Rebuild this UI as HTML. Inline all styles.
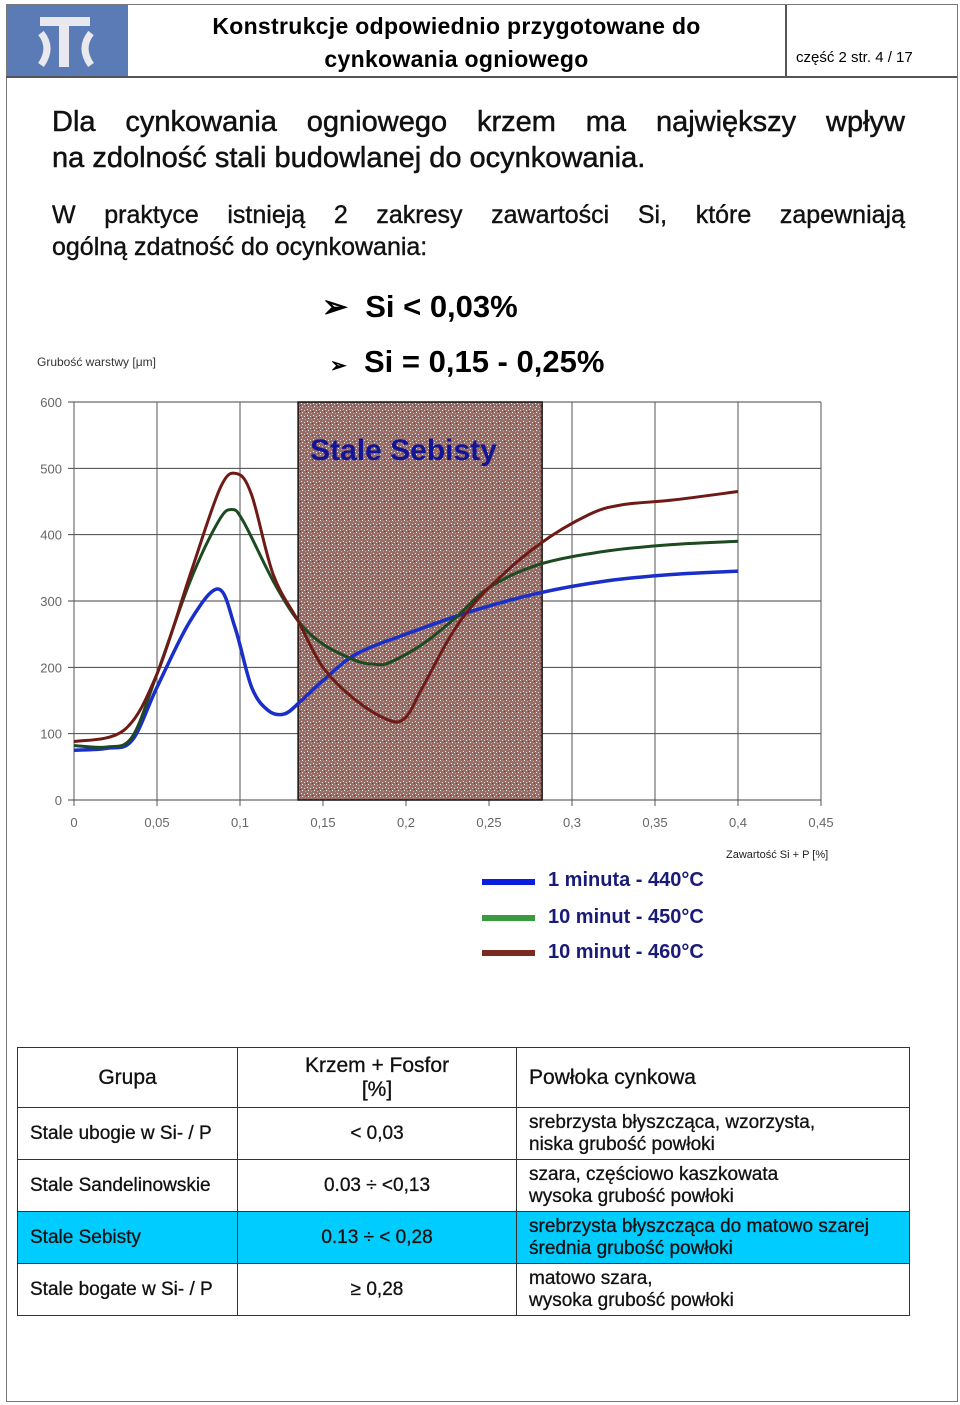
<!DOCTYPE html>
<html><head><meta charset="utf-8">
<style>
body{margin:0;background:#fff;font-family:"Liberation Sans",sans-serif;}
#page{position:relative;width:960px;height:1405px;overflow:hidden;background:#fff;}
.abs{position:absolute;}
.bold{font-weight:bold;}
.jl{text-align:justify;text-align-last:justify;white-space:nowrap;}
table{border-collapse:collapse;position:absolute;left:17px;top:1047px;}
td{border:1.5px solid #333;font-size:19px;padding:0 12px;color:#111;}
</style></head>
<body>
<div id="page">
  <div class="abs" style="left:6px;top:4px;width:950px;height:1396px;border:1.5px solid #777;"></div>
  <div class="abs" style="left:6px;top:76px;width:951px;height:1.5px;background:#555;"></div>
  <div class="abs" style="left:7px;top:5px;width:121px;height:71px;background:#5a7bb5;">
    <svg width="121" height="71">
      <rect x="33" y="12" width="50" height="9" fill="#e8e8ee"/>
      <rect x="52" y="20" width="10" height="42" fill="#e8e8ee"/>
      <path d="M34 28 q12 15 0 32" stroke="#e8e8ee" stroke-width="7" fill="none"/>
      <path d="M84 28 q-12 15 0 32" stroke="#e8e8ee" stroke-width="7" fill="none"/>
    </svg>
  </div>
  <div class="abs" style="left:785px;top:5px;width:1.5px;height:71px;background:#555;"></div>
  <div class="abs bold" style="left:128px;top:10px;width:657px;text-align:center;font-size:23px;line-height:33px;letter-spacing:0.3px;">Konstrukcje odpowiednio przygotowane do<br>cynkowania ogniowego</div>
  <div class="abs" style="left:796px;top:49px;font-size:15px;">część 2 str. 4 / 17</div>

  <div class="abs" style="left:52px;top:104px;width:853px;font-size:29px;line-height:36px;color:#111;-webkit-text-stroke:0.5px #111;">
    <div class="jl">Dla cynkowania ogniowego krzem ma największy wpływ</div>
    <div>na zdolność stali budowlanej do ocynkowania.</div>
  </div>
  <div class="abs" style="left:52px;top:199px;width:853px;font-size:25px;line-height:32px;color:#111;-webkit-text-stroke:0.4px #111;">
    <div class="jl">W praktyce istnieją 2 zakresy zawartości Si, które zapewniają</div>
    <div>ogólną zdatność do ocynkowania:</div>
  </div>
  <div class="abs bold" style="left:322px;top:289px;font-size:31px;">➢&nbsp; Si &lt; 0,03%</div>
  <div class="abs bold" style="left:330px;top:344px;font-size:31px;"><span style="font-size:20px">➢</span>&nbsp; Si = 0,15 - 0,25%</div>
  <div class="abs" style="left:37px;top:355px;font-size:12px;color:#333;">Grubość warstwy [μm]</div>

  <svg id="chart" class="abs" style="left:0;top:390px;" width="860" height="455">
    <defs>
      <pattern id="noise" width="6" height="6" patternUnits="userSpaceOnUse">
        <rect width="6" height="6" fill="#9a6e66"/>
        <rect x="1" y="1" width="1" height="1" fill="#eee"/>
        <rect x="4" y="2" width="1" height="1" fill="#ddd"/>
        <rect x="2" y="4" width="1" height="1" fill="#f4f4f4"/>
        <rect x="5" y="5" width="1" height="1" fill="#c9b"/>
        <rect x="0" y="3" width="1" height="1" fill="#6b3a36"/>
      </pattern>
    </defs>
    <g id="grid"></g>
    <g id="band"></g>
    <g id="series"></g>
    <g id="labels"></g>
  </svg>
  <div class="abs" style="left:726px;top:849px;font-size:11px;color:#222;">Zawartość Si + P [%]</div>

  <div class="abs" style="left:480px;top:866px;">
    <div style="position:absolute;left:0;top:0;width:400px;"><span style="position:absolute;left:2px;top:13px;width:53px;height:6px;background:#0a1ee0"></span><span class="bold" style="position:absolute;left:68px;top:3px;font-size:20px;color:#1a1a78;white-space:nowrap;">1 minuta - 440°C</span></div>
    <div style="position:absolute;left:0;top:37px;width:400px;"><span style="position:absolute;left:2px;top:12px;width:53px;height:6px;background:#3a9a3e"></span><span class="bold" style="position:absolute;left:68px;top:3px;font-size:20px;color:#1a1a78;white-space:nowrap;">10 minut - 450°C</span></div>
    <div style="position:absolute;left:0;top:72px;width:400px;"><span style="position:absolute;left:2px;top:12px;width:53px;height:6px;background:#7a2a1e"></span><span class="bold" style="position:absolute;left:68px;top:3px;font-size:20px;color:#1a1a78;white-space:nowrap;">10 minut - 460°C</span></div>
  </div>

  <table style="-webkit-text-stroke:0.3px #111;">
    <tr style="height:60px">
      <td style="width:195px;text-align:center;font-size:21px;">Grupa</td>
      <td style="width:254px;text-align:center;font-size:21px;line-height:24px;">Krzem + Fosfor<br>[%]</td>
      <td style="width:368px;font-size:21px;">Powłoka cynkowa</td>
    </tr>
    <tr style="height:52px">
      <td>Stale ubogie w Si- / P</td><td style="text-align:center">&lt; 0,03</td><td style="line-height:22px">srebrzysta błyszcząca, wzorzysta,<br>niska grubość powłoki</td>
    </tr>
    <tr style="height:52px">
      <td>Stale Sandelinowskie</td><td style="text-align:center">0.03 ÷ &lt;0,13</td><td style="line-height:22px">szara, częściowo kaszkowata<br>wysoka grubość powłoki</td>
    </tr>
    <tr style="height:52px;background:#00ccff">
      <td>Stale Sebisty</td><td style="text-align:center">0.13 ÷ &lt; 0,28</td><td style="line-height:22px">srebrzysta błyszcząca do matowo szarej<br>średnia grubość powłoki</td>
    </tr>
    <tr style="height:52px">
      <td>Stale bogate w Si- / P</td><td style="text-align:center">≥ 0,28</td><td style="line-height:22px">matowo szara,<br>wysoka grubość powłoki</td>
    </tr>
  </table>
</div>
<script>
const xTicks=[0,0.05,0.1,0.15,0.2,0.25,0.3,0.35,0.4,0.45];
const xTickLabels=["0","0,05","0,1","0,15","0,2","0,25","0,3","0,35","0,4","0,45"];
const yTicks=[0,100,200,300,400,500,600];
const bandRange=[0.135,0.282];
const bandLabel="Stale Sebisty";
const blueX=[0,0.02,0.035,0.05,0.07,0.087,0.097,0.107,0.117,0.127,0.137,0.15,0.17,0.2,0.24,0.28,0.32,0.36,0.4];
const blueY=[75,78,90,170,270,318,260,170,135,130,150,180,220,250,285,312,330,340,345];
const greenX=[0,0.02,0.035,0.05,0.07,0.087,0.095,0.102,0.12,0.135,0.15,0.17,0.18,0.19,0.21,0.23,0.25,0.28,0.32,0.36,0.4];
const greenY=[82,80,95,190,330,420,438,420,330,270,235,210,205,207,235,275,320,355,375,385,390];
const redX=[0,0.03,0.05,0.07,0.088,0.098,0.107,0.12,0.135,0.15,0.17,0.19,0.2,0.21,0.23,0.25,0.28,0.31,0.33,0.36,0.4];
const redY=[88,105,190,340,470,492,460,340,270,200,150,120,125,170,260,320,385,430,445,452,465];

const OY=390, X0=74, X1=821, Y0=800, Y1=402;
function sx(v){return X0+(X1-X0)*v/0.45;}
function sy(v){return Y0-OY-(Y0-Y1)*v/600;}
const NS="http://www.w3.org/2000/svg";
function mk(tag,attrs,parent){const e=document.createElementNS(NS,tag);for(const k in attrs)e.setAttribute(k,attrs[k]);document.getElementById(parent).appendChild(e);return e;}
yTicks.forEach(t=>{
  const l=mk('line',{x1:sx(0)-6,x2:sx(0.45),y1:sy(t),y2:sy(t),stroke:'#444','stroke-width':1},'grid');
  
  
  const tx=mk('text',{x:sx(0)-12,y:sy(t)+5,'text-anchor':'end','font-size':13,fill:'#666','font-family':'Liberation Sans, sans-serif'},'labels');
  tx.textContent=t;
  
  
});
xTicks.forEach((t,i)=>{
  const l=mk('line',{x1:sx(t),x2:sx(t),y1:sy(600),y2:sy(0)+6,stroke:'#555','stroke-width':1},'grid');
  
  
  const tx=mk('text',{x:sx(t),y:sy(0)+27,'text-anchor':'middle','font-size':13,fill:'#666','font-family':'Liberation Sans, sans-serif'},'labels');
  tx.textContent=xTickLabels[i];
  
  
});
const band=mk('rect',{x:sx(bandRange[0]),y:sy(600),width:sx(bandRange[1])-sx(bandRange[0]),height:sy(0)-sy(600),fill:'url(#noise)',stroke:'#111','stroke-width':1.5},'band');


const bl=mk('text',{x:sx(bandRange[0])+12,y:sy(600)+58,'font-size':30,'font-weight':'bold',fill:'#141496','font-family':'Liberation Sans, sans-serif'},'band');
bl.textContent=bandLabel;


function path(xs,ys){
  const p=xs.map((x,i)=>[sx(x),sy(ys[i])]);
  let d='M'+p[0][0]+' '+p[0][1];
  for(let i=0;i<p.length-1;i++){
    const p0=p[i-1]||p[i],p1=p[i],p2=p[i+1],p3=p[i+2]||p2;
    d+=' C'+(p1[0]+(p2[0]-p0[0])/6)+' '+(p1[1]+(p2[1]-p0[1])/6)+' '+(p2[0]-(p3[0]-p1[0])/6)+' '+(p2[1]-(p3[1]-p1[1])/6)+' '+p2[0]+' '+p2[1];
  }
  return d;
}
const s1=mk('path',{d:path(blueX,blueY),fill:'none',stroke:'#1a2fc8','stroke-width':3.5},'series');


const s2=mk('path',{d:path(greenX,greenY),fill:'none',stroke:'#1e4a22','stroke-width':3},'series');


const s3=mk('path',{d:path(redX,redY),fill:'none',stroke:'#6e1a16','stroke-width':3},'series');


</script>
</body></html>
